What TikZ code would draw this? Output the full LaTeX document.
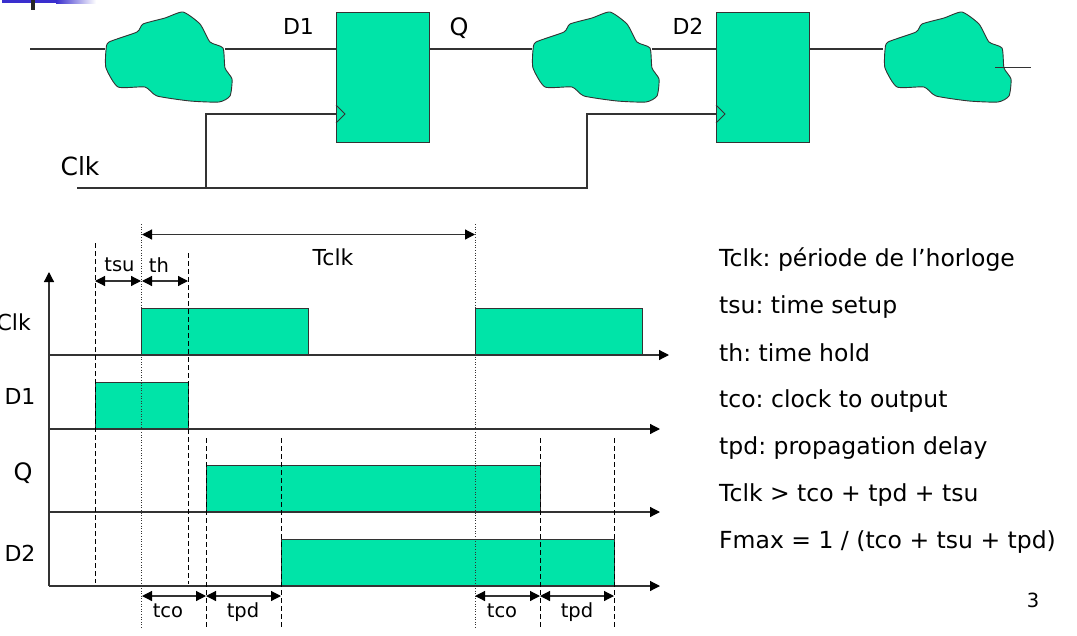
\documentclass[tikz,border=0pt]{standalone}
\usepackage{fontspec}
\setmainfont{DejaVu Sans}
\usetikzlibrary{arrows.meta}
\definecolor{logicfill}{HTML}{00E4A8}
\definecolor{linegray}{HTML}{333333}
\definecolor{barblue}{HTML}{3A2FCE}
\frenchspacing
\tikzset{
    wire/.style={draw,linegray,line width=1.2pt},
    axisline/.style={wire,-{Triangle[length=10pt,width=10pt,black]}},
    span/.style={draw,linegray,line width=1.2pt,{Triangle[length=10pt,width=10pt,black]}-{Triangle[length=10pt,width=10pt,black]}},
    guide/.style={draw,black,line width=0.8pt,dash pattern=on 5pt off 3pt},
    period/.style={draw,linegray,line width=0.6pt,dotted},
    flop/.style={draw,linegray,line width=1.2pt,fill=logicfill,inner sep=0pt,anchor=north west,minimum width=93,minimum height=130},
    pulse/.style={draw,linegray,line width=1.2pt,fill=logicfill,inner sep=0pt,anchor=south west,minimum height=46},
    lbl/.style={inner sep=0pt,font=\fontsize{22}{22}\selectfont},
    small/.style={inner sep=0pt,font=\fontsize{19.5}{20}\selectfont},
    legend/.style={inner sep=0pt,anchor=base west,font=\fontsize{23.5}{24}\selectfont},
    cloud/.pic={
        \path[draw,linegray,line width=0.9pt,fill=logicfill] plot[smooth cycle,tension=0.35] coordinates {
            (106,50) (109,42) (137,32) (143,24) (165,18) (183,12) (200,24) (210,42) (223,48)
            (225,68) (232,79) (230,96) (219,102) (190,101) (157,96) (145,87) (118,87) (106,68)};
    },
}
\begin{document}
\begin{tikzpicture}[x=1pt,y=-1pt]
    \useasboundingbox (0,0) rectangle (1077,635);
    % slide corner
    \path[fill=barblue] (2,0) rectangle (56,3);
    \path[left color=barblue,right color=white] (56,0) rectangle (96,3);
    \path[fill=black!85] (31,0) rectangle (35,10);
    % logic clouds
    \pic (cloudA) at (0,0) {cloud};
    \pic (cloudB) at (427,0) {cloud};
    \pic (cloudC) at (779,0) {cloud};
    % flip flops
    \node[flop] (ff1) at (336,12) {};
    \node[flop] (ff2) at (716,12) {};
    \coordinate (ff1d) at (336,49);
    \coordinate (ff1q) at (429,49);
    \coordinate (ff1c) at (336,114);
    \coordinate (ff2d) at (716,49);
    \coordinate (ff2q) at (809,49);
    \coordinate (ff2c) at (716,114);
    \coordinate (in) at (30,49);
    \coordinate (a1) at (105,49);
    \coordinate (a2) at (225,49);
    \coordinate (b1) at (532,49);
    \coordinate (b2) at (652,49);
    \coordinate (c1) at (883,49);
    \coordinate (c2) at (995,67.5);
    \coordinate (c3) at (1031,67.5);
    \coordinate (ck0) at (77,188);
    \coordinate (ck1) at (206,188);
    \coordinate (ck2) at (206,114);
    \coordinate (ck3) at (587,188);
    \coordinate (ck4) at (587,114);
    \path[wire] (in) -- (a1);
    \path[wire] (a2) -- (ff1d);
    \path[wire] (ff1q) -- (b1);
    \path[wire] (b2) -- (ff2d);
    \path[wire] (ff2q) -- (c1);
    \path[wire] (c2) -- (c3);
    \path[wire] (ck0) -- (ck3) -- (ck4) -- (ff2c);
    \path[wire] (ck1) -- (ck2) -- (ff1c);
    \path[draw,linegray,line width=0.9pt] (336,105) -- (345,114) -- (336,123);
    \path[draw,linegray,line width=0.9pt] (716,105) -- (725,114) -- (716,123);
    \node[lbl] (d1top) at (298.5,26) {D1};
    \node[lbl,font=\fontsize{24}{24}\selectfont] (qtop) at (459,28) {Q};
    \node[lbl] (d2top) at (688,26) {D2};
    \node[lbl,font=\fontsize{25}{25}\selectfont] (clktop) at (80,166) {Clk};
    % waveforms
    \node[pulse,minimum width=167] (clk1) at (141,355) {};
    \node[pulse,minimum width=167] (clk2) at (475,355) {};
    \node[pulse,minimum width=93] (d1w) at (95,429) {};
    \node[pulse,minimum width=334] (qw) at (206,512) {};
    \node[pulse,minimum width=333] (d2w) at (281,586) {};
    % axes
    \coordinate (org) at (49,586);
    \coordinate (top) at (49,272);
    \coordinate (clkl) at (49,355);
    \coordinate (clkr) at (669,355);
    \coordinate (d1l) at (49,429);
    \coordinate (d1r) at (660,429);
    \coordinate (ql) at (49,512);
    \coordinate (qr) at (660,512);
    \coordinate (d2r) at (660,586);
    \path[axisline] (org) -- (top);
    \path[axisline] (clkl) -- (clkr);
    \path[axisline] (d1l) -- (d1r);
    \path[axisline] (ql) -- (qr);
    \path[axisline] (org) -- (d2r);
    % guides
    \path[guide] (95,243) -- (95,583);
    \path[guide] (188,253) -- (188,584);
    \path[guide] (206,438) -- (206,629);
    \path[guide] (281,438) -- (281,629);
    \path[guide] (540,438) -- (540,629);
    \path[guide] (614,438) -- (614,629);
    \path[period] (141,224) -- (141,628);
    \path[period] (475,224) -- (475,628);
    % spans
    \path[span] (142,234.5) -- (475,234.5);
    \path[span] (95,281) -- (141,281);
    \path[span] (142,281) -- (188,281);
    \path[span] (142,596) -- (206,596);
    \path[span] (206,596) -- (281,596);
    \path[span] (475,596) -- (540,596);
    \path[span] (540,596) -- (614,596);
    \node[small] (tsu) at (119.5,265) {tsu};
    \node[small] (th) at (159,265) {th};
    \node[lbl] (tclk) at (333,257) {Tclk};
    \node[small] (tco1) at (168,611) {tco};
    \node[small] (tpd1) at (243,612) {tpd};
    \node[small] (tco2) at (502,611) {tco};
    \node[small] (tpd2) at (577,612) {tpd};
    \node[lbl,anchor=east] (clkw) at (31,322) {Clk};
    \node[lbl] (d1n) at (20,396) {D1};
    \node[lbl,font=\fontsize{24}{24}\selectfont] (qn) at (23,473) {Q};
    \node[lbl] (d2n) at (20,553) {D2};
    % legend
    \node[legend] (l1) at (719,266) {Tclk: période de l’horloge};
    \node[legend] (l2) at (719,313) {tsu: time setup};
    \node[legend] (l3) at (719,361) {th: time hold};
    \node[legend] (l4) at (719,407) {tco: clock to output};
    \node[legend] (l5) at (719,454) {tpd: propagation delay};
    \node[legend] (l6) at (719,501) {Tclk > tco + tpd + tsu};
    \node[legend] (l7) at (719,548) {Fmax = 1 / (tco + tsu + tpd)};
    \node[small] (pg) at (1033,600) {3};
\end{tikzpicture}
\end{document}
